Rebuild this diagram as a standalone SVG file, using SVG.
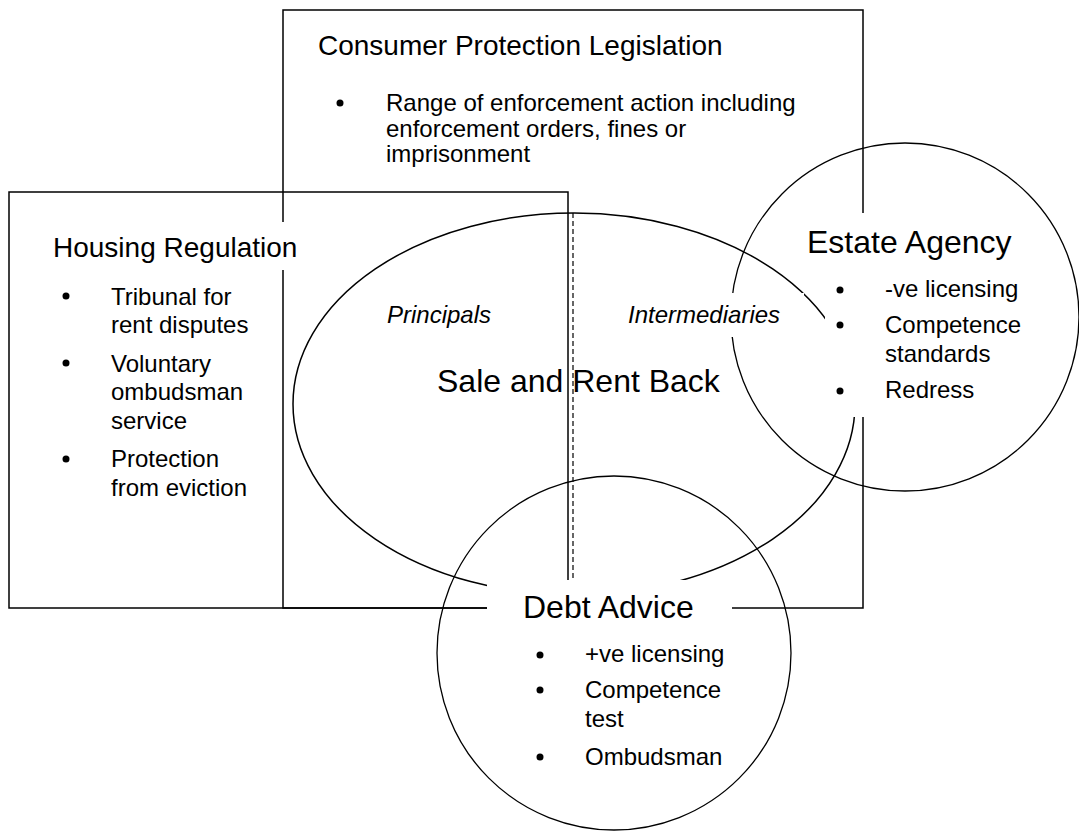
<svg xmlns="http://www.w3.org/2000/svg" width="1079" height="831" viewBox="0 0 1079 831">
<style>
.ln{fill:none;stroke:#000;stroke-width:1.5}
.cl{fill:none;stroke:#000;stroke-width:1.3}
.dash{fill:none;stroke:#000;stroke-width:1.2;stroke-dasharray:5 3}
.mask{fill:#fff;stroke:none}
text{font-family:"Liberation Sans",Arial,sans-serif;fill:#000}
.t28{font-size:28px}
.t32{font-size:32px}
.t24{font-size:24px}
.it{font-size:24px;font-style:italic}
.dot{fill:#000}
</style>
<g id="connectors">
<rect class="ln" x="283" y="10" width="580" height="598"/>
<rect class="ln" x="9" y="192" width="559" height="416"/>
<ellipse class="ln" cx="574" cy="404" rx="281" ry="191"/>
<circle class="cl" cx="905" cy="317" r="174"/>
<circle class="cl" cx="614" cy="653" r="177"/>
<line class="dash" x1="573" y1="213" x2="573" y2="580"/>
</g>
<g id="masks">
<rect class="mask" x="40" y="222" width="270" height="48"/>
<rect class="mask" x="618" y="293" width="186" height="44"/>
<rect class="mask" x="825" y="213" width="210" height="204"/>
<rect class="mask" x="487" y="580" width="245" height="50"/>
</g>
<g id="consumer">
<text class="t28" x="318" y="55">Consumer Protection Legislation</text>
<circle class="dot" cx="340" cy="103" r="3.5"/>
<text class="t24" x="386" y="111">Range of enforcement action including</text>
<text class="t24" x="386" y="137">enforcement orders, fines or</text>
<text class="t24" x="386" y="162">imprisonment</text>
</g>
<g id="housing">
<text class="t28" x="53" y="257">Housing Regulation</text>
<circle class="dot" cx="66" cy="296" r="3.5"/>
<circle class="dot" cx="66" cy="363" r="3.5"/>
<circle class="dot" cx="66" cy="459" r="3.5"/>
<text class="t24" x="111" y="305">Tribunal for</text>
<text class="t24" x="111" y="333">rent disputes</text>
<text class="t24" x="111" y="372">Voluntary</text>
<text class="t24" x="111" y="400">ombudsman</text>
<text class="t24" x="111" y="429">service</text>
<text class="t24" x="111" y="467">Protection</text>
<text class="t24" x="111" y="496">from eviction</text>
</g>
<g id="salerent">
<text class="it" x="387" y="323">Principals</text>
<text class="it" x="628" y="323">Intermediaries</text>
<text class="t32" x="437" y="392">Sale and Rent Back</text>
</g>
<g id="estate">
<text class="t32" x="807" y="253">Estate Agency</text>
<circle class="dot" cx="840" cy="290" r="3.5"/>
<circle class="dot" cx="840" cy="325" r="3.5"/>
<circle class="dot" cx="840" cy="391" r="3.5"/>
<text class="t24" x="885" y="297">-ve licensing</text>
<text class="t24" x="885" y="333">Competence</text>
<text class="t24" x="885" y="362">standards</text>
<text class="t24" x="885" y="398">Redress</text>
</g>
<g id="debt">
<text class="t32" x="523" y="618">Debt Advice</text>
<circle class="dot" cx="540" cy="655" r="3.5"/>
<circle class="dot" cx="540" cy="690" r="3.5"/>
<circle class="dot" cx="540" cy="757" r="3.5"/>
<text class="t24" x="585" y="662">+ve licensing</text>
<text class="t24" x="585" y="698">Competence</text>
<text class="t24" x="585" y="727">test</text>
<text class="t24" x="585" y="765">Ombudsman</text>
</g>
</svg>
